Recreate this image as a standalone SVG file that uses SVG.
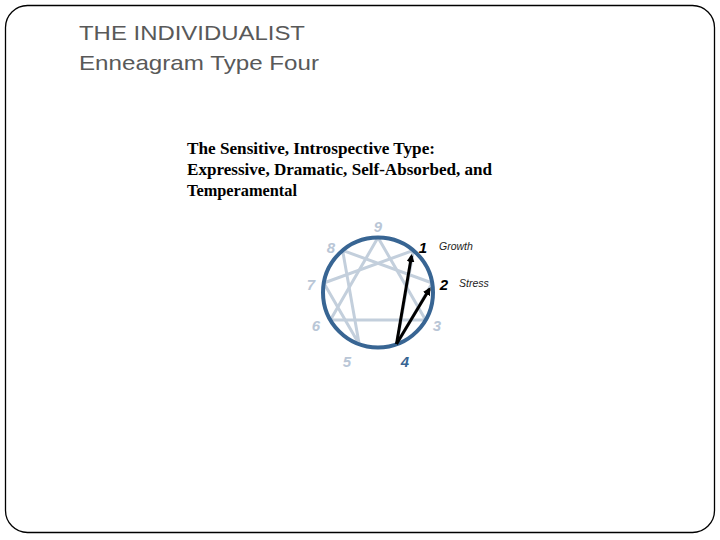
<svg xmlns="http://www.w3.org/2000/svg" width="720" height="540" viewBox="0 0 720 540">
<style>
.title{font-family:"Liberation Sans",Arial,sans-serif;font-size:21px;fill:#595959}
.body{font-family:"Liberation Serif","Times New Roman",serif;font-size:16px;font-weight:bold;fill:#000}
.num{font-family:"Liberation Sans",Arial,sans-serif;font-size:15px;font-weight:bold;font-style:italic;text-anchor:middle}
.lt{fill:#b9c6d6}
.lbl{font-family:"Liberation Sans",Arial,sans-serif;font-size:10.5px;font-style:italic;fill:#222}
.inner{stroke:#c3cfdc;stroke-width:3;fill:none;stroke-linejoin:round}
.arrow{stroke:#000;stroke-width:3;fill:none}
</style>
<defs>
<marker id="ah" markerWidth="8" markerHeight="8" refX="6" refY="4" orient="auto" markerUnits="userSpaceOnUse">
<path d="M0,0 L8,4 L0,8 Z" fill="#000"/>
</marker>
</defs>
<rect x="5.5" y="5.5" width="709" height="527" rx="22" ry="22" fill="#fff" stroke="#000" stroke-width="1.3"/>
<g id="title">
<text class="title" x="79" y="39.5" textLength="226" lengthAdjust="spacingAndGlyphs">THE INDIVIDUALIST</text>
<text class="title" x="79" y="69.5" textLength="240" lengthAdjust="spacingAndGlyphs">Enneagram Type Four</text>
</g>
<g id="description">
<text class="body" x="187" y="153.5" textLength="248" lengthAdjust="spacingAndGlyphs">The Sensitive, Introspective Type:</text>
<text class="body" x="187" y="175" textLength="305" lengthAdjust="spacingAndGlyphs">Expressive, Dramatic, Self-Absorbed, and</text>
<text class="body" x="187" y="196" textLength="110" lengthAdjust="spacingAndGlyphs">Temperamental</text>
</g>
<g id="enneagram">
<g id="inner-lines">
<polygon class="inner" points="378,237.5 425.6,320 330.4,320"/>
<polygon class="inner" points="413.4,250.4 396.8,344.2 432.2,283 342.6,250.4 359.2,344.2 323.8,283"/>
</g>
<circle id="circle" cx="378" cy="292.5" r="55" fill="none" stroke="#386593" stroke-width="4"/>
<g id="connectors">
<line class="arrow" x1="396.5" y1="344" x2="411.5" y2="256" marker-end="url(#ah)"/>
<line class="arrow" x1="396.5" y1="344" x2="429.5" y2="289" marker-end="url(#ah)"/>
</g>
<g id="labels">
<text class="num lt" x="378" y="232">9</text>
<text class="num lt" x="331" y="253">8</text>
<text class="num lt" x="311" y="290">7</text>
<text class="num lt" x="316" y="331">6</text>
<text class="num lt" x="347" y="367">5</text>
<text class="num" x="405" y="367" fill="#386593">4</text>
<text class="num lt" x="437" y="331">3</text>
<text class="num" x="444" y="290" fill="#000">2</text>
<text class="num" x="423" y="253" fill="#000">1</text>
<text class="lbl" x="439" y="250">Growth</text>
<text class="lbl" x="459" y="287">Stress</text>
</g>
</g>
</svg>
